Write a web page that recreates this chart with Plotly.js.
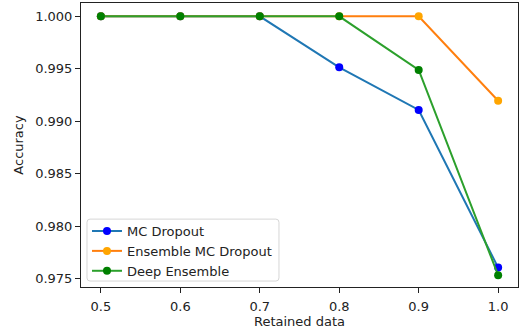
<!DOCTYPE html>
<html>
<head>
<meta charset="utf-8">
<script src="https://cdn.plot.ly/plotly-3.0.1.min.js"></script>
<style>
  html, body { margin: 0; padding: 0; background: #fff; }
  #chart { width: 519px; height: 333px; }
</style>
</head>
<body>
<div id="chart"></div>
<script>
// Fraction of data retained after uncertainty-based rejection
const retained = [0.5, 0.6, 0.7, 0.8, 0.9, 1.0];

// Accuracy on the retained subset for each method
const mcDropout = [1.0, 1.0, 1.0, 0.99514, 0.99108, 0.97606];
const ensembleMcDropout = [1.0, 1.0, 1.0, 1.0, 1.0, 0.99196];
const deepEnsemble = [1.0, 1.0, 1.0, 1.0, 0.99489, 0.97533];

const yTicks = [0.975, 0.980, 0.985, 0.990, 0.995, 1.000];
const xTicks = [0.5, 0.6, 0.7, 0.8, 0.9, 1.0];

const FONT = { family: 'DejaVu Sans', size: 13, color: '#222' };

function series(name, y, lineColor, markerColor) {
  return {
    type: 'scatter',
    mode: 'lines+markers',
    name: name,
    x: retained,
    y: y,
    line: { color: lineColor, width: 2 },
    marker: { color: markerColor, size: 8 }
  };
}

const data = [
  series('MC Dropout', mcDropout, '#1f77b4', '#0000ff'),
  series('Ensemble MC Dropout', ensembleMcDropout, '#ff7f0e', '#ffa500'),
  series('Deep Ensemble', deepEnsemble, '#2ca02c', '#008000')
];

const axisCommon = {
  showline: true,
  linecolor: '#222',
  linewidth: 1,
  mirror: true,
  showgrid: false,
  zeroline: false,
  ticks: 'outside',
  ticklen: 5,
  tickwidth: 1,
  tickcolor: '#222',
  tickfont: FONT
};

// Rounded legend frame, in plot-area fractions
const fx0 = 0.0137, fx1 = 0.453, fy0 = 0.021, fy1 = 0.239;
const rx = 0.007, ry = 0.011;
const framePath =
  `M ${fx0 + rx},${fy0} L ${fx1 - rx},${fy0} Q ${fx1},${fy0} ${fx1},${fy0 + ry} ` +
  `L ${fx1},${fy1 - ry} Q ${fx1},${fy1} ${fx1 - rx},${fy1} ` +
  `L ${fx0 + rx},${fy1} Q ${fx0},${fy1} ${fx0},${fy1 - ry} ` +
  `L ${fx0},${fy0 + ry} Q ${fx0},${fy0} ${fx0 + rx},${fy0} Z`;

const layout = {
  width: 519,
  height: 333,
  margin: { l: 81, r: 1, t: 3, b: 46 },
  paper_bgcolor: '#fff',
  plot_bgcolor: '#fff',
  font: FONT,
  showlegend: true,
  legend: {
    x: 0.0137, y: 0.0034, xanchor: 'left', yanchor: 'bottom',
    bgcolor: 'rgba(0,0,0,0)',
    borderwidth: 0,
    font: FONT
  },
  shapes: [{
    type: 'path', xref: 'paper', yref: 'paper', layer: 'below',
    path: framePath,
    fillcolor: 'rgba(255,255,255,0.8)',
    line: { color: '#d6d6d6', width: 1 }
  }],
  xaxis: Object.assign({}, axisCommon, {
    range: [0.475, 1.025],
    tickvals: xTicks,
    ticktext: xTicks.map(v => v.toFixed(1)),
    ticklabelstandoff: 2,
    title: { text: 'Retained data', font: FONT, standoff: 4 }
  }),
  yaxis: Object.assign({}, axisCommon, {
    range: [0.97421, 1.00127],
    tickvals: yTicks,
    ticktext: yTicks.map(v => v.toFixed(3)),
    title: { text: 'Accuracy', font: FONT, standoff: 8 }
  })
};

Plotly.newPlot('chart', data, layout, { displayModeBar: false, staticPlot: true });
</script>
</body>
</html>
